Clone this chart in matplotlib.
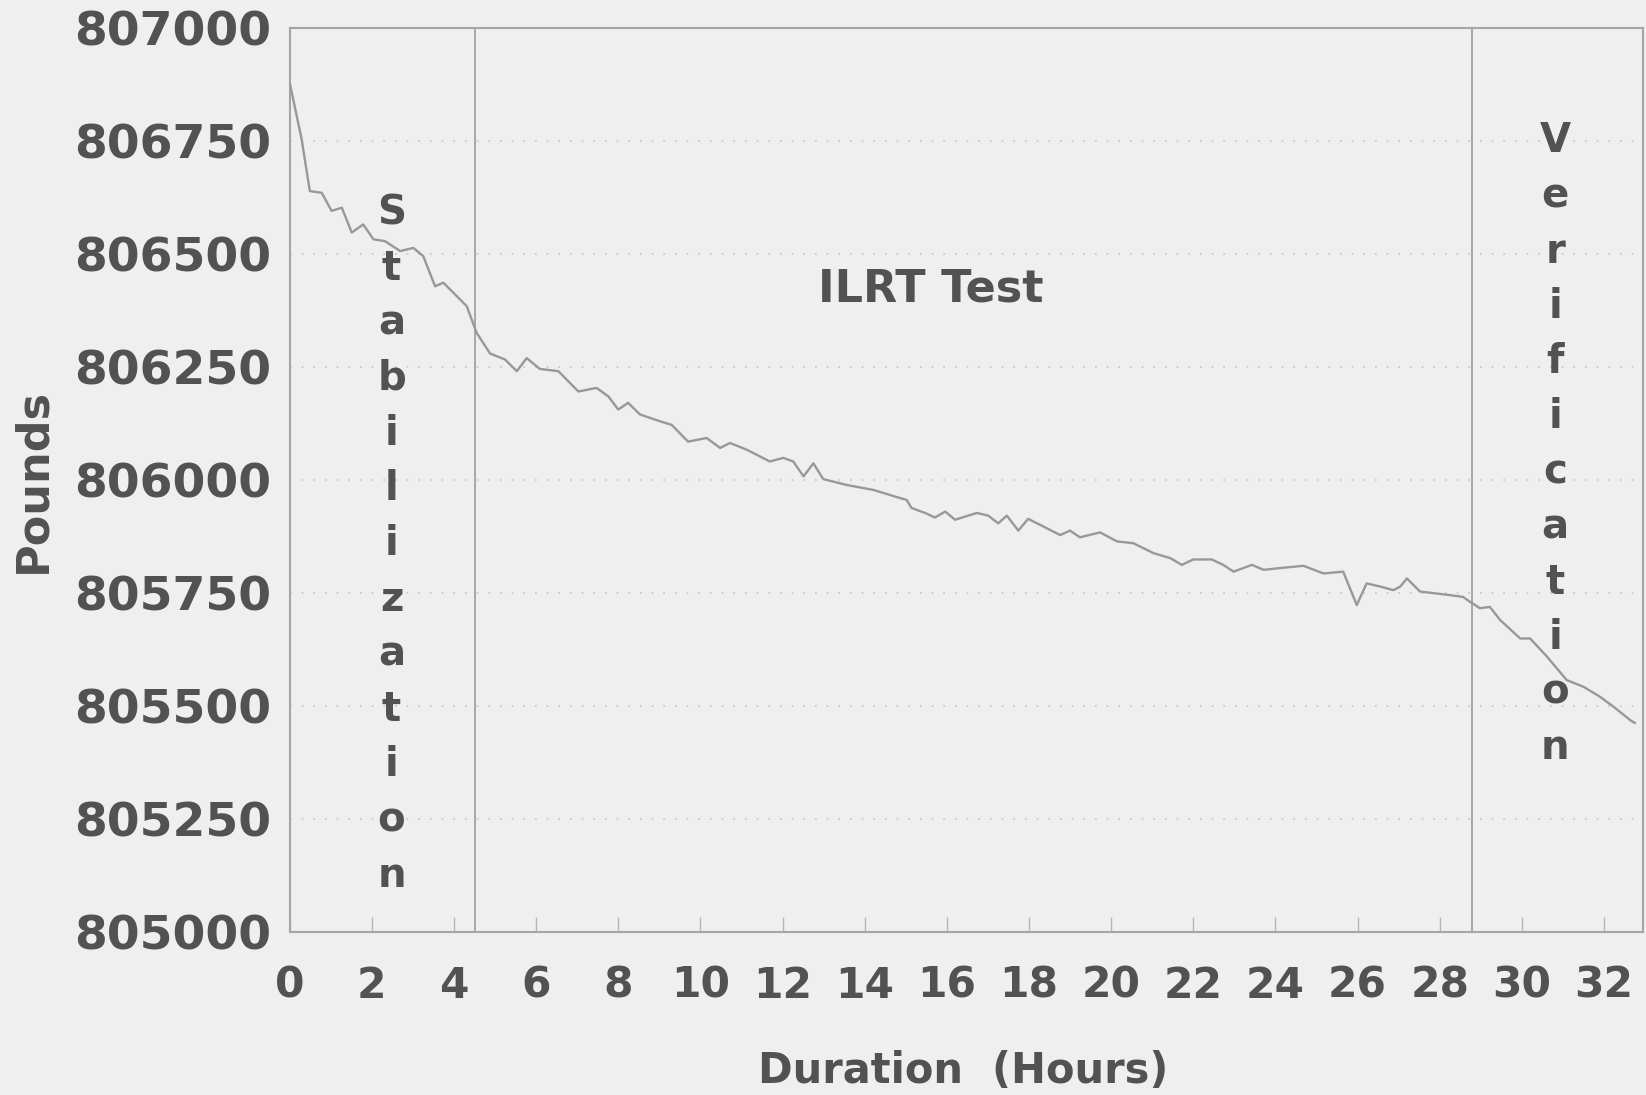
import matplotlib
matplotlib.use("Agg")
import matplotlib.pyplot as plt

hours = [0.00, 0.29, 0.49, 0.78, 1.02, 1.27, 1.51, 1.79, 2.04, 2.32, 2.69, 3.01, 3.25, 3.54, 3.74,
         4.07, 4.31, 4.55, 4.88, 5.24, 5.53, 5.77, 6.09, 6.54, 6.78, 7.03, 7.47, 7.76, 8.00, 8.24,
         8.53, 9.02, 9.30, 9.70, 10.15, 10.48, 10.72, 11.13, 11.69, 12.02, 12.26, 12.51, 12.75,
         12.99, 13.56, 14.21, 14.86, 15.02, 15.14, 15.47, 15.71, 15.96, 16.20, 16.73, 17.01, 17.25,
         17.46, 17.74, 17.98, 18.35, 18.76, 19.00, 19.24, 19.73, 20.14, 20.54, 21.03, 21.44, 21.72,
         22.00, 22.45, 22.73, 22.98, 23.43, 23.71, 24.12, 24.68, 25.17, 25.65, 25.98, 26.22, 26.55,
         26.87, 27.04, 27.20, 27.52, 28.25, 28.57, 28.74, 28.98, 29.22, 29.47, 29.96, 30.20, 30.61,
         31.09, 31.50, 31.90, 32.23, 32.64, 32.75]
pounds = [806880, 806755, 806640, 806636, 806596, 806603, 806548, 806566, 806533, 806529, 806507,
          806514, 806496, 806429, 806437, 806407, 806385, 806326, 806280, 806267, 806241, 806270,
          806246, 806241, 806219, 806196, 806204, 806185, 806156, 806171, 806145, 806130, 806122,
          806085, 806093, 806071, 806082, 806067, 806041, 806049, 806041, 806008, 806037, 806002,
          805989, 805978, 805960, 805956, 805938, 805927, 805917, 805930, 805912, 805927, 805921,
          805904, 805921, 805888, 805914, 805897, 805878, 805888, 805873, 805884, 805864, 805860,
          805838, 805827, 805812, 805824, 805824, 805812, 805797, 805812, 805801, 805805, 805810,
          805793, 805797, 805723, 805771, 805764, 805756, 805764, 805782, 805753, 805745, 805741,
          805730, 805716, 805719, 805690, 805649, 805649, 805609, 805557, 805542, 805520, 805498,
          805468, 805462]

x_ticks = list(range(0, 33, 2))
y_ticks = [805000, 805250, 805500, 805750, 806000, 806250, 806500, 806750, 807000]
phase_bounds = [4.5, 28.78]
stab_text = "Stabilization"
verif_text = "Verification"
mid_text = "ILRT Test"

bg = "#efefef"
txt = "#525252"
plt.rcParams["font.family"] = ["DejaVu Sans"]
plt.rcParams["font.weight"] = "bold"

fig = plt.figure(figsize=(16.46, 10.95), dpi=100, facecolor=bg)
ax = fig.add_axes([0.176, 0.1493, 0.8222, 0.8247])
ax.set_facecolor(bg)

ax.plot(hours, pounds, color="#989898", lw=1.7, zorder=3)

for b in phase_bounds:
    ax.axvline(b, color="#a8a8a8", lw=1.4, zorder=2)

ax.set_xlim(0, 32.95)
ax.set_ylim(805000, 807000)
ax.set_xticks(x_ticks)
ax.set_yticks(y_ticks)
ax.set_xticklabels([str(t) for t in x_ticks], fontsize=30.5, color=txt, fontweight="bold")
ax.set_yticklabels([str(t) for t in y_ticks], fontsize=34, color=txt, fontweight="bold")
ax.tick_params(axis="x", direction="in", length=11, width=1.0, color="#b5b5b5", pad=24)
ax.tick_params(axis="y", length=0, pad=13)
ax.yaxis.grid(True, linestyle=(0, (1, 6)), color="#c4c4c4", lw=1.2)
ax.xaxis.grid(False)

for s in ax.spines.values():
    s.set_color("#a5a5a5")
    s.set_linewidth(1.5)

ax.set_ylabel("Pounds", fontsize=32, color=txt, fontweight="bold")
ax.yaxis.set_label_coords(-0.190, 0.5)
ax.yaxis.label.set_va("center")
ax.set_xlabel("Duration  (Hours)", fontsize=30, color=txt, fontweight="bold")
ax.xaxis.set_label_coords(0.498, -0.154)
ax.xaxis.label.set_va("center")

ax.text(15.6, 806422, mid_text, fontsize=32, color=txt, ha="center", va="center", fontweight="bold")

step = 122.2
for i, ch in enumerate(stab_text):
    ax.text(2.48, 806566 - i * step, ch, fontsize=29, color=txt, ha="center", va="baseline",
            fontweight="bold")
for i, ch in enumerate(verif_text):
    ax.text(30.81, 806726 - i * step, ch, fontsize=29, color=txt, ha="center", va="baseline",
            fontweight="bold")

fig.savefig("out.png", dpi=100, facecolor=bg)
